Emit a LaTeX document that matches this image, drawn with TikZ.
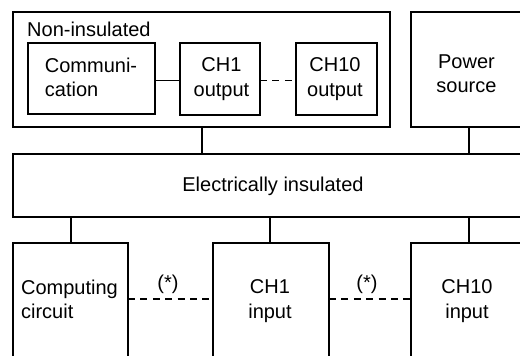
\documentclass[tikz,border=0pt]{standalone}
\usepackage{fontspec}
\setmainfont{Liberation Sans}
\begin{document}
\begin{tikzpicture}[x=1pt,y=-1pt,
  box/.style={draw, line width=1.4pt, inner sep=0pt, outer sep=0pt},
  txt/.style={inner sep=0pt, font=\fontsize{20}{24.5}\selectfont},
  wire/.style={line width=1.4pt},
  dashwire/.style={line width=1.4pt, dash pattern=on 7pt off 5.4pt}]
\useasboundingbox (0,0) rectangle (520,356);
\clip (0,0) rectangle (520,356);
\fill[white] (0,0) rectangle (520,356);
% boxes
\node[box, minimum width=377pt, minimum height=115pt] (nonins) at (201.5,69.5) {};
\node[box, minimum width=127pt, minimum height=71pt] (comm) at (91.5,78.5) {};
\node[box, minimum width=80pt, minimum height=72pt] (ch1o) at (220,79) {};
\node[box, minimum width=81pt, minimum height=72pt] (ch10o) at (336.5,79) {};
\node[box, minimum width=124pt, minimum height=115pt] (power) at (473,69.5) {};
\node[box, minimum width=522pt, minimum height=63pt] (elec) at (274,185.5) {};
\node[box, minimum width=115pt, minimum height=127pt] (comp) at (70.5,306.5) {};
\node[box, minimum width=116pt, minimum height=127pt] (ch1i) at (271,306.5) {};
\node[box, minimum width=124pt, minimum height=127pt] (ch10i) at (473,306.5) {};
% texts
\node[txt, anchor=base west] (tnon) at (27,36) {Non-insulated};
\node[txt, align=left] (tcomm) at (91,77.2) {Communi-\\cation};
\node[txt, align=center] (tch1o) at (221.5,79.2) {CH1\\output};
\node[txt, align=center] (tch10o) at (335,79.2) {CH10\\output};
\node[txt, align=center] (tpow) at (466.5,73.7) {Power\\source};
\node[txt, anchor=base] (telec) at (273,191) {Electrically insulated};
\node[txt, align=left] (tcomp) at (69.5,299.2) {Computing\\circuit};
\node[txt, align=center] (tch1i) at (270,301.2) {CH1\\input};
\node[txt, align=center] (tch10i) at (467,301.2) {CH10\\input};
\node[txt] (star1) at (168,284) {(*)};
\node[txt] (star2) at (367,284) {(*)};
% helper coordinates
\coordinate (ytop) at (0,80.5);
\coordinate (ybot) at (0,299);
\coordinate (xa) at (202,0);
\coordinate (xb) at (469,0);
\coordinate (xc) at (71,0);
\coordinate (xd) at (270,0);
% connectors
\draw[wire] (comm.east |- ytop) -- (ch1o.west |- ytop);
\draw[dashwire] (ch1o.east |- ytop) -- (ch10o.west |- ytop);
\draw[wire] (nonins.south -| xa) -- (elec.north -| xa);
\draw[wire] (power.south -| xb) -- (elec.north -| xb);
\draw[wire] (elec.south -| xc) -- (comp.north -| xc);
\draw[wire] (elec.south -| xd) -- (ch1i.north -| xd);
\draw[wire] (elec.south -| xb) -- (ch10i.north -| xb);
\draw[dashwire] (comp.east |- ybot) -- (ch1i.west |- ybot);
\draw[dashwire] (ch1i.east |- ybot) -- (ch10i.west |- ybot);
\end{tikzpicture}
\end{document}
